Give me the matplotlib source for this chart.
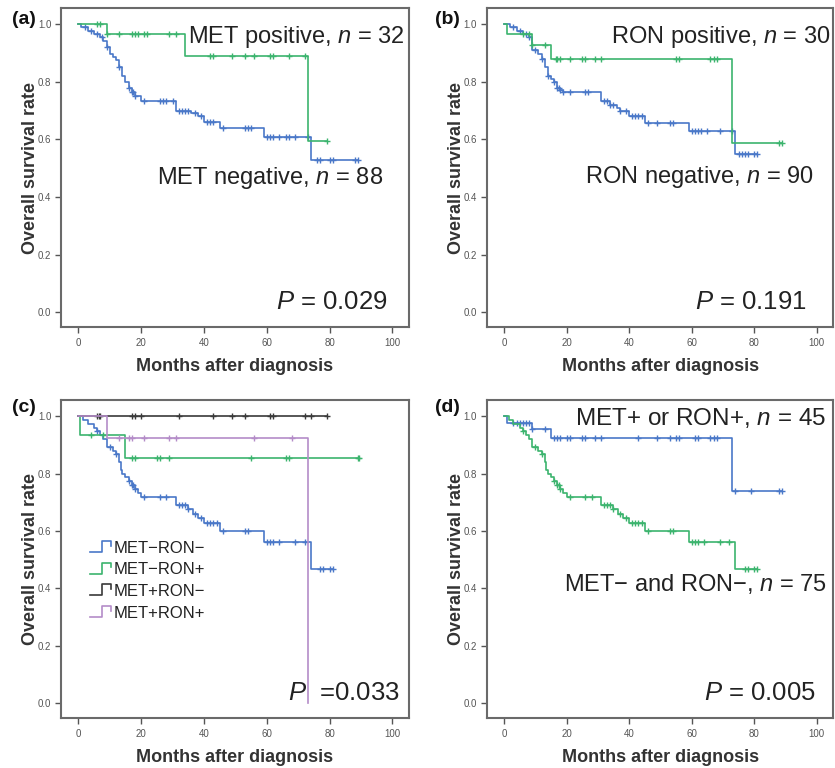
import matplotlib
matplotlib.use("Agg")
import matplotlib.pyplot as plt
from matplotlib.legend_handler import HandlerBase
from matplotlib.lines import Line2D

plt.rcParams['font.family'] = ['Liberation Sans', 'DejaVu Sans']
plt.rcParams['mathtext.fontset'] = 'custom'
plt.rcParams['mathtext.rm'] = 'Liberation Sans'
plt.rcParams['mathtext.it'] = 'Liberation Sans:italic'

BLUE = '#4a78c8'
GREEN = '#3cb46e'
BLACK = '#3a3a3a'
PURPLE = '#b48cc8'

# ---- panel (a): MET ----
met_pos_t = [0, 9, 34, 73]
met_pos_s = [1.0, 0.965, 0.890, 0.594]
met_pos_end = 79
met_pos_cens = [6, 7, 9, 13, 17, 18, 19, 21, 22, 29, 31, 42, 43, 49, 53, 56, 61, 62, 67, 72, 79]

met_neg_t = [0, 1, 3, 5, 7, 8, 9, 10, 11, 12, 13, 14, 15, 16, 17, 18, 20, 31, 36, 38, 40, 45, 59, 74]
met_neg_s = [1.0, 0.989, 0.977, 0.966, 0.955, 0.943, 0.92, 0.897, 0.886, 0.874, 0.85, 0.82,
             0.80, 0.78, 0.765, 0.75, 0.733, 0.70, 0.69, 0.68, 0.66, 0.64, 0.607, 0.53]
met_neg_end = 89
met_neg_cens = [2, 4, 6, 7.5, 9, 13, 16, 17, 17.5, 18, 21, 26, 27, 28, 30, 32, 33, 34, 35, 37,
                39, 41, 42, 43, 46, 53, 54, 55, 60, 61, 62, 64, 66, 67, 69, 73, 76, 77, 80, 81, 88, 89]

# ---- panel (b): RON ----
ron_pos_t = [0, 1, 9, 15, 73]
ron_pos_s = [1.0, 0.967, 0.929, 0.88, 0.587]
ron_pos_end = 89
ron_pos_cens = [6, 8, 9, 13, 16.5, 17, 18, 21, 25, 26, 29, 31, 55, 56, 66, 67, 68, 88, 89]

ron_neg_t = [0, 2, 4, 6, 8, 9, 11, 12, 13, 14, 15, 16, 17, 18, 19, 31, 34, 36, 37, 40, 45, 59, 74]
ron_neg_s = [1.0, 0.989, 0.978, 0.967, 0.956, 0.91, 0.895, 0.88, 0.85, 0.82, 0.81, 0.80, 0.78,
             0.77, 0.763, 0.735, 0.72, 0.71, 0.70, 0.681, 0.657, 0.628, 0.548]
ron_neg_end = 81
ron_neg_cens = [3, 5, 7, 8, 10, 12, 14, 16, 17, 17.5, 18, 19, 21, 26, 27, 32, 33, 34, 35, 37, 39,
                41, 42, 43, 44, 46, 49, 53, 54, 60, 61, 62, 63, 65, 69, 73, 75, 76, 77, 78, 80, 81]

# ---- panel (c): four groups ----
mm_t = [0, 1.5, 3, 5, 6, 7, 8, 9, 11, 12, 13, 13.5, 14, 15, 16, 17, 18, 19, 20, 31, 35, 36.5, 38, 40, 45, 59, 74]
mm_s = [1.0, 0.987, 0.973, 0.96, 0.947, 0.933, 0.92, 0.893, 0.88, 0.867, 0.84, 0.813, 0.80,
        0.787, 0.773, 0.76, 0.747, 0.733, 0.72, 0.69, 0.675, 0.66, 0.645, 0.628, 0.60, 0.562, 0.468]
mm_end = 81
mm_cens = [6, 10, 12, 16, 17, 17.5, 18, 21, 26, 28, 32, 33, 34, 35, 37, 39, 41, 42, 43, 44, 46,
           53, 54, 60, 61, 62, 64, 69, 72, 77, 78, 80, 81]

mp_t = [0, 0.5, 15]
mp_s = [1.0, 0.933, 0.853]
mp_end = 89.5
mp_cens = [4, 8, 17, 18, 25, 26, 29, 55, 66, 67, 89, 89.5]

pm_t = [0]
pm_s = [1.0]
pm_end = 79
pm_cens = [6, 6.5, 7, 17, 18, 20, 32, 43, 49, 53, 61, 62, 72, 74, 79]

pp_t = [0, 9, 73]
pp_s = [1.0, 0.925, 0.0]
pp_end = 73
pp_cens = [13, 16, 17, 21, 29, 31, 56, 68]

group_labels = ['MET\u2212RON\u2212', 'MET\u2212RON+', 'MET+RON\u2212', 'MET+RON+']

# ---- panel (d) ----
any_t = [0, 1, 9, 15, 73]
any_s = [1.0, 0.978, 0.955, 0.923, 0.74]
any_end = 89
any_cens = [3, 4, 5, 6, 7, 8, 9, 13, 16, 17, 18, 20, 21, 25, 26, 29, 31, 43, 49, 53, 55, 56,
            61, 62, 66, 67, 68, 74, 79, 88, 89]

xticks = [0, 20, 40, 60, 80, 100]
yticks = [0.0, 0.2, 0.4, 0.6, 0.8, 1.0]


def surv_at(t_list, s_list, x):
    val = s_list[0]
    for t, s in zip(t_list, s_list):
        if t <= x:
            val = s
    return val


def km(ax, t_list, s_list, end, cens, color, label=None):
    xs = list(t_list) + [end]
    ys = list(s_list) + [s_list[-1]]
    ax.step(xs, ys, where='post', color=color, lw=1.2, label=label)
    cy = [surv_at(t_list, s_list, c) for c in cens]
    ax.plot(cens, cy, ls='none', marker='+', ms=5, mew=1.0, color=color)


class StepHandler(HandlerBase):
    def create_artists(self, legend, orig_handle, xdescent, ydescent, width, height, fontsize, trans):
        w, h = width, height
        x0, y0 = -xdescent, -ydescent
        xs = [x0, x0 + 0.6 * w, x0 + 0.6 * w, x0 + w, x0 + w]
        ys = [y0 + 0.05 * h, y0 + 0.05 * h, y0 + 1.0 * h, y0 + 1.0 * h, y0 + 0.6 * h]
        ln = Line2D(xs, ys, color=orig_handle.get_color(), lw=1.2, transform=trans)
        return [ln]


def style(ax):
    ax.set_xlim(-5.5, 105.3)
    ax.set_ylim(-0.052, 1.056)
    ax.set_xticks(xticks)
    ax.set_yticks(yticks)
    ax.set_xticklabels([str(v) for v in xticks])
    ax.set_yticklabels(['%.1f' % v for v in yticks])
    ax.tick_params(labelsize=7, colors='#555555', length=4, width=1, pad=3)
    ax.tick_params(axis='x', pad=4)
    for sp in ax.spines.values():
        sp.set_color('#6a6a6a')
        sp.set_linewidth(1.5)
    ax.set_xlabel('Months after diagnosis', fontsize=13, fontweight='bold', color='#333333', labelpad=7)
    ax.set_ylabel('Overall survival rate', fontsize=13, fontweight='bold', color='#333333', labelpad=-1)


fig = plt.figure(figsize=(8.35, 7.68), dpi=100)
ax_a = fig.add_axes([0.073, 0.574, 0.417, 0.4155])
ax_b = fig.add_axes([0.583, 0.574, 0.415, 0.4155])
ax_c = fig.add_axes([0.073, 0.065, 0.417, 0.414])
ax_d = fig.add_axes([0.583, 0.065, 0.415, 0.414])

big = 17
pbig = 18.5
ink = '#222222'

# (a)
km(ax_a, met_neg_t, met_neg_s, met_neg_end, met_neg_cens, BLUE)
km(ax_a, met_pos_t, met_pos_s, met_pos_end, met_pos_cens, GREEN)
style(ax_a)
ax_a.text(104, 0.955, r'MET positive, $\mathit{n}$ = 32', ha='right', va='center', fontsize=big, color=ink)
ax_a.text(97, 0.465, r'MET negative, $\mathit{n}$ = 88', ha='right', va='center', fontsize=big, color=ink)
ax_a.text(98.4, 0.035, r'$\mathit{P}$ = 0.029', ha='right', va='center', fontsize=pbig, color=ink)

# (b)
km(ax_b, ron_neg_t, ron_neg_s, ron_neg_end, ron_neg_cens, BLUE)
km(ax_b, ron_pos_t, ron_pos_s, ron_pos_end, ron_pos_cens, GREEN)
style(ax_b)
ax_b.text(104.5, 0.955, r'RON positive, $\mathit{n}$ = 30', ha='right', va='center', fontsize=big, color=ink)
ax_b.text(99, 0.468, r'RON negative, $\mathit{n}$ = 90', ha='right', va='center', fontsize=big, color=ink)
ax_b.text(96.8, 0.037, r'$\mathit{P}$ = 0.191', ha='right', va='center', fontsize=pbig, color=ink)

# (c)
km(ax_c, mm_t, mm_s, mm_end, mm_cens, BLUE, group_labels[0])
km(ax_c, mp_t, mp_s, mp_end, mp_cens, GREEN, group_labels[1])
km(ax_c, pm_t, pm_s, pm_end, pm_cens, BLACK, group_labels[2])
km(ax_c, pp_t, pp_s, pp_end, pp_cens, PURPLE, group_labels[3])
style(ax_c)
handles = [l for l in ax_c.get_lines() if l.get_label() in group_labels]
leg = ax_c.legend(handles, group_labels, handler_map={Line2D: StepHandler()},
                  loc='upper left', bbox_to_anchor=(0.04, 0.605), frameon=False,
                  fontsize=12, handlelength=1.25, handletextpad=0.15, labelspacing=0.4)
for t in leg.get_texts():
    t.set_color(ink)
ax_c.text(102.5, 0.036, r'$\mathit{P}$  =0.033', ha='right', va='center', fontsize=pbig, color=ink)

# (d)
km(ax_d, any_t, any_s, any_end, any_cens, BLUE)
km(ax_d, mm_t, mm_s, mm_end, mm_cens, GREEN)
style(ax_d)
ax_d.text(102.9, 0.994, r'MET+ or RON+, $\mathit{n}$ = 45', ha='right', va='center', fontsize=17.5, color=ink)
ax_d.text(103.2, 0.416, 'MET\u2212 and RON\u2212, ' + r'$\mathit{n}$ = 75', ha='right', va='center', fontsize=big, color=ink)
ax_d.text(99.7, 0.036, r'$\mathit{P}$ = 0.005', ha='right', va='center', fontsize=pbig, color=ink)

# panel letters
for lab, x, y in [('(a)', 12, 20), ('(b)', 435, 20), ('(c)', 12, 408), ('(d)', 435, 408)]:
    fig.text(x / 835, 1 - y / 768, lab, fontsize=14, fontweight='bold', ha='left', va='center', color='#111111')

fig.savefig('out.png', dpi=100)
